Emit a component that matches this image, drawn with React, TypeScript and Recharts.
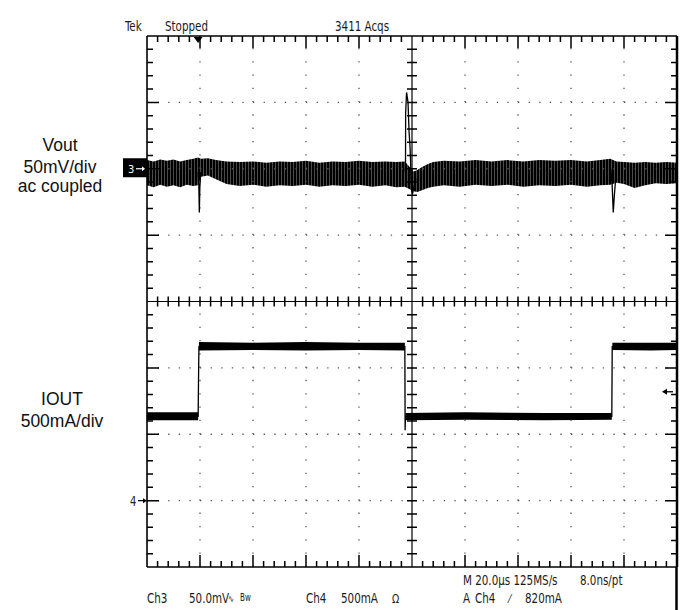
import React from "react";
import {
  ComposedChart,
  Line,
  Area,
  XAxis,
  YAxis,
  ReferenceLine,
  ReferenceDot,
} from "recharts";

// time axis in µs (20 µs/div, 10 div); vertical axis in divisions (0 = bottom edge, 8 = top edge)
// Ch3 (Vout, 50mV/div) ground sits on division 6, Ch4 (IOUT, 500mA/div) ground on division 1

// Vout noise band envelope
const voutTime = [
  0, 2.5, 5, 7.5, 10, 12.5, 15, 17.5, 19.2, 20.4, 23, 26, 30, 35, 40, 45, 50,
  55, 60, 65, 70, 75, 80, 85, 90, 94, 97.3, 100.6, 102, 104, 106, 108, 112,
  118, 124, 130, 136, 142, 148, 154, 160, 166, 171, 174.8, 177.2, 180, 184,
  188, 192, 196, 200,
];
const voutLow = [
  5.75, 5.72, 5.76, 5.73, 5.75, 5.72, 5.76, 5.74, 5.75, 5.88, 5.9, 5.84, 5.77,
  5.74, 5.76, 5.73, 5.75, 5.74, 5.76, 5.73, 5.75, 5.74, 5.76, 5.73, 5.75, 5.72,
  5.73, 5.66, 5.65, 5.68, 5.71, 5.73, 5.75, 5.73, 5.76, 5.74, 5.76, 5.73, 5.75,
  5.74, 5.76, 5.73, 5.75, 5.76, 5.79, 5.77, 5.71, 5.75, 5.78, 5.77, 5.78,
];
const voutHigh = [
  6.13, 6.11, 6.14, 6.12, 6.14, 6.11, 6.13, 6.15, 6.17, 6.15, 6.16, 6.13, 6.11,
  6.1, 6.11, 6.09, 6.11, 6.1, 6.12, 6.09, 6.11, 6.1, 6.12, 6.1, 6.11, 6.1,
  6.11, 5.96, 5.98, 6.03, 6.07, 6.1, 6.12, 6.11, 6.13, 6.11, 6.13, 6.11, 6.13,
  6.12, 6.13, 6.11, 6.13, 6.15, 6.11, 6.1, 6.09, 6.1, 6.09, 6.1, 6.09,
];

// Vout transients at the load steps
const spike1Time = [19.3, 19.55, 19.75, 19.95, 20.3];
const spike1Value = [5.95, 5.75, 5.34, 5.72, 5.95];
const spike2Time = [97.45, 97.55, 97.6, 97.95, 98.5, 98.9, 99.3, 99.8, 100.2, 100.7, 101.5];
const spike2Value = [5.95, 6.05, 6.84, 7.15, 7.0, 6.55, 6.3, 5.68, 5.62, 5.72, 5.85];
const spike3Time = [175.0, 175.5, 175.95, 176.4, 177.0];
const spike3Value = [6.0, 5.78, 5.34, 5.62, 5.92];

// IOUT step waveform
const ioutTime = [0, 19.3, 19.45, 19.6, 97.3, 97.4, 97.55, 175.4, 175.55, 200];
const ioutValue = [2.27, 2.27, 2.85, 3.32, 3.32, 2.06, 2.27, 2.27, 3.32, 3.32];
const ioutBandTime = [0, 10, 19.3, 19.6, 40, 60, 80, 97.3, 97.55, 120, 150, 175.4, 175.6, 190, 200];
const ioutBandLow = [2.21, 2.21, 2.21, 3.26, 3.27, 3.26, 3.27, 3.26, 2.21, 2.22, 2.21, 2.22, 3.27, 3.26, 3.27];
const ioutBandHigh = [2.33, 2.33, 2.33, 3.39, 3.38, 3.39, 3.38, 3.38, 2.32, 2.33, 2.32, 2.32, 3.38, 3.38, 3.38];

const triggerTime = 19.3;
const triggerLevel = 2.64; // 820 mA on Ch4

const gridX = [20, 40, 60, 80, 120, 140, 160, 180];
const gridY = [1, 2, 3, 5, 6, 7];

const W = 688;
const H = 610;
const TOP = 36;
const BOTTOM = 567;
const LEFT = 147;
const RIGHT = 677;
const MID_X = (LEFT + RIGHT) / 2;
const MID_Y = (TOP + BOTTOM) / 2;

// graticule marks every 0.2 div (same linear mapping as the chart's axes)
const px = (t: number) => LEFT + (t / 200) * (RIGHT - LEFT);
const py = (v: number) => BOTTOM - (v / 8) * (BOTTOM - TOP);

function graticulePath() {
  let d = "";
  for (let i = 1; i < 50; i++) {
    if (i === 25) continue;
    const x = px(i * 4);
    const len = i % 5 === 0 ? 12 : 6;
    d += `M${x} ${TOP}v${len}M${x} ${BOTTOM}v${-len}M${x} ${MID_Y - 5}v10`;
  }
  for (let j = 1; j < 40; j++) {
    if (j === 20) continue;
    const y = py(j / 5);
    const len = j % 5 === 0 ? 12 : 6;
    d += `M${LEFT} ${y}h${len}M${RIGHT} ${y}h${-len}M${MID_X - 5} ${y}h10`;
  }
  return d;
}
const GRATICULE = graticulePath();

const voutRows = voutTime.map((t, i) => ({ t, band: [voutLow[i], voutHigh[i]] }));
const toRows = (ts: number[], vs: number[]) => ts.map((t, i) => ({ t, v: vs[i] }));
const ioutRows = toRows(ioutTime, ioutValue);
const ioutBandRows = ioutBandTime.map((t, i) => ({ t, band: [ioutBandLow[i], ioutBandHigh[i]] }));

const scopeFont = "'DejaVu Sans Condensed', 'Liberation Sans Narrow', sans-serif";
const labelFont = "'Liberation Sans', Arial, sans-serif";

const GroundMarker = ({ cx, cy, label, boxed }: any) =>
  boxed ? (
    <g>
      <rect x={cx - 24} y={cy - 10.5} width={24} height={19} fill="#000" />
      <text x={cx - 19} y={cy + 4} fill="#fff" fontSize={11} fontFamily={scopeFont}>
        {label}
      </text>
      <line x1={cx - 11} x2={cx - 4} y1={cy} y2={cy} stroke="#fff" strokeWidth={1.2} />
      <polygon points={`${cx - 2},${cy} ${cx - 5},${cy - 2.5} ${cx - 5},${cy + 2.5}`} fill="#fff" />
    </g>
  ) : (
    <g>
      <g transform={`translate(${cx - 17},${cy + 5}) scale(1,1.25)`}>
        <text x={0} y={0} fill="#222" fontSize={11} fontFamily={scopeFont}>
          {label}
        </text>
      </g>
      <line x1={cx - 9} x2={cx - 2} y1={cy} y2={cy} stroke="#000" strokeWidth={1.2} />
      <polygon points={`${cx},${cy} ${cx - 4},${cy - 2.5} ${cx - 4},${cy + 2.5}`} fill="#000" />
    </g>
  );

const ST = ({ x, y, size = 11.5, children }: any) => (
  <g transform={`translate(${x},${y}) scale(1,1.22)`}>
    <text x={0} y={0} fontSize={size} fontFamily={scopeFont} fill="#1a1a1a">
      {children}
    </text>
  </g>
);

export default function App() {
  return (
    <div style={{ position: "absolute", left: 0, top: 0, width: W, height: H, background: "#fff" }}>
      <svg width={0} height={0} style={{ position: "absolute" }}>
        <defs>
          <pattern id="voutHatch" width="3" height="7" patternUnits="userSpaceOnUse">
            <rect width="3" height="7" fill="#4a4a4a" />
            <rect x="0" width="2" height="7" fill="#000" />
          </pattern>
        </defs>
      </svg>
      <ComposedChart
        width={W}
        height={H}
        margin={{ top: TOP, right: W - RIGHT, bottom: H - BOTTOM, left: LEFT }}
      >
        <XAxis dataKey="t" type="number" domain={[0, 200]} allowDataOverflow hide />
        <YAxis type="number" domain={[0, 8]} allowDataOverflow hide />

        {/* dotted division grid */}
        {gridX.map((x) => (
          <ReferenceLine key={"gx" + x} x={x} stroke="#555" strokeWidth={1.3} strokeDasharray="1.3 11.975" />
        ))}
        {gridY.map((y) => (
          <ReferenceLine key={"gy" + y} y={y} stroke="#555" strokeWidth={1.3} strokeDasharray="1.3 9.3" />
        ))}

        <ReferenceLine x={100} stroke="#000" strokeWidth={1.2} />
        <ReferenceLine y={4} stroke="#000" strokeWidth={1.2} />
        <ReferenceLine x={0} stroke="#000" strokeWidth={1.6} />
        <ReferenceLine y={0} stroke="#000" strokeWidth={1.6} />
        <ReferenceLine y={8} stroke="#000" strokeWidth={1.6} />
        <ReferenceLine x={200} stroke="#000" strokeWidth={2.5} />

        <Area
          data={voutRows}
          dataKey="band"
          type="linear"
          stroke="none"
          fill="url(#voutHatch)"
          fillOpacity={1}
          isAnimationActive={false}
        />
        <Line data={toRows(spike1Time, spike1Value)} dataKey="v" stroke="#000" strokeWidth={1.3} dot={false} isAnimationActive={false} />
        <Line data={toRows(spike2Time, spike2Value)} dataKey="v" stroke="#000" strokeWidth={1.3} dot={false} isAnimationActive={false} />
        <Line data={toRows(spike3Time, spike3Value)} dataKey="v" stroke="#000" strokeWidth={1.3} dot={false} isAnimationActive={false} />

        <Area
          data={ioutBandRows}
          dataKey="band"
          type="linear"
          stroke="none"
          fill="#000"
          fillOpacity={1}
          isAnimationActive={false}
        />
        <Line data={ioutRows} dataKey="v" stroke="#000" strokeWidth={1.3} dot={false} isAnimationActive={false} />

        <ReferenceDot x={0} y={6} r={0} shape={(p: any) => <GroundMarker cx={p.cx} cy={p.cy} label="3" boxed />} />
        <ReferenceDot x={0} y={1} r={0} shape={(p: any) => <GroundMarker cx={p.cx} cy={p.cy} label="4" />} />
        <ReferenceDot
          x={triggerTime}
          y={8}
          r={0}
          shape={(p: any) => (
            <polygon points={`${p.cx - 4.5},${p.cy + 1} ${p.cx + 4.5},${p.cy + 1} ${p.cx},${p.cy + 7}`} fill="#000" />
          )}
        />
        <ReferenceDot
          x={200}
          y={triggerLevel}
          r={0}
          shape={(p: any) => (
            <g>
              <line x1={p.cx - 12} x2={p.cx - 4} y1={p.cy} y2={p.cy} stroke="#000" strokeWidth={1.3} />
              <polygon points={`${p.cx - 15},${p.cy} ${p.cx - 10},${p.cy - 3} ${p.cx - 10},${p.cy + 3}`} fill="#000" />
            </g>
          )}
        />
      </ComposedChart>

      <svg width={W} height={H} style={{ position: "absolute", left: 0, top: 0, pointerEvents: "none" }}>
        {/* graticule tick marks on the frame and across the centre cross */}
        <path d={GRATICULE} stroke="#000" strokeWidth={1.5} fill="none" />
        <line x1={676.5} x2={676.5} y1={BOTTOM} y2={H} stroke="#000" strokeWidth={2.5} />

        <ST x={125} y={31}>Tek</ST>
        <ST x={165} y={31}>Stopped</ST>
        <ST x={335} y={31}>3411 Acqs</ST>

        <ST x={463} y={585}>M 20.0µs 125MS/s</ST>
        <ST x={580} y={585}>8.0ns/pt</ST>

        <ST x={147} y={603}>Ch3</ST>
        <ST x={189} y={603}>50.0mV</ST>
        <ST x={228} y={602} size={8}>∿</ST>
        <ST x={240} y={601} size={8}>Bw</ST>
        <ST x={306} y={603}>Ch4</ST>
        <ST x={341} y={603}>500mA</ST>
        <ST x={392} y={603} size={10.5}>Ω</ST>
        <ST x={463} y={603}>A</ST>
        <ST x={475} y={603}>Ch4</ST>
        <ST x={509} y={603} size={10.5}>⁄</ST>
        <ST x={525} y={603}>820mA</ST>

        <g fontFamily={labelFont} fontSize={17.5} fill="#111" textAnchor="middle">
          <text x={60} y={151}>Vout</text>
          <text x={60} y={172.5}>50mV/div</text>
          <text x={60} y={192}>ac coupled</text>
          <text x={62} y={405}>IOUT</text>
          <text x={62} y={427}>500mA/div</text>
        </g>
      </svg>
    </div>
  );
}
